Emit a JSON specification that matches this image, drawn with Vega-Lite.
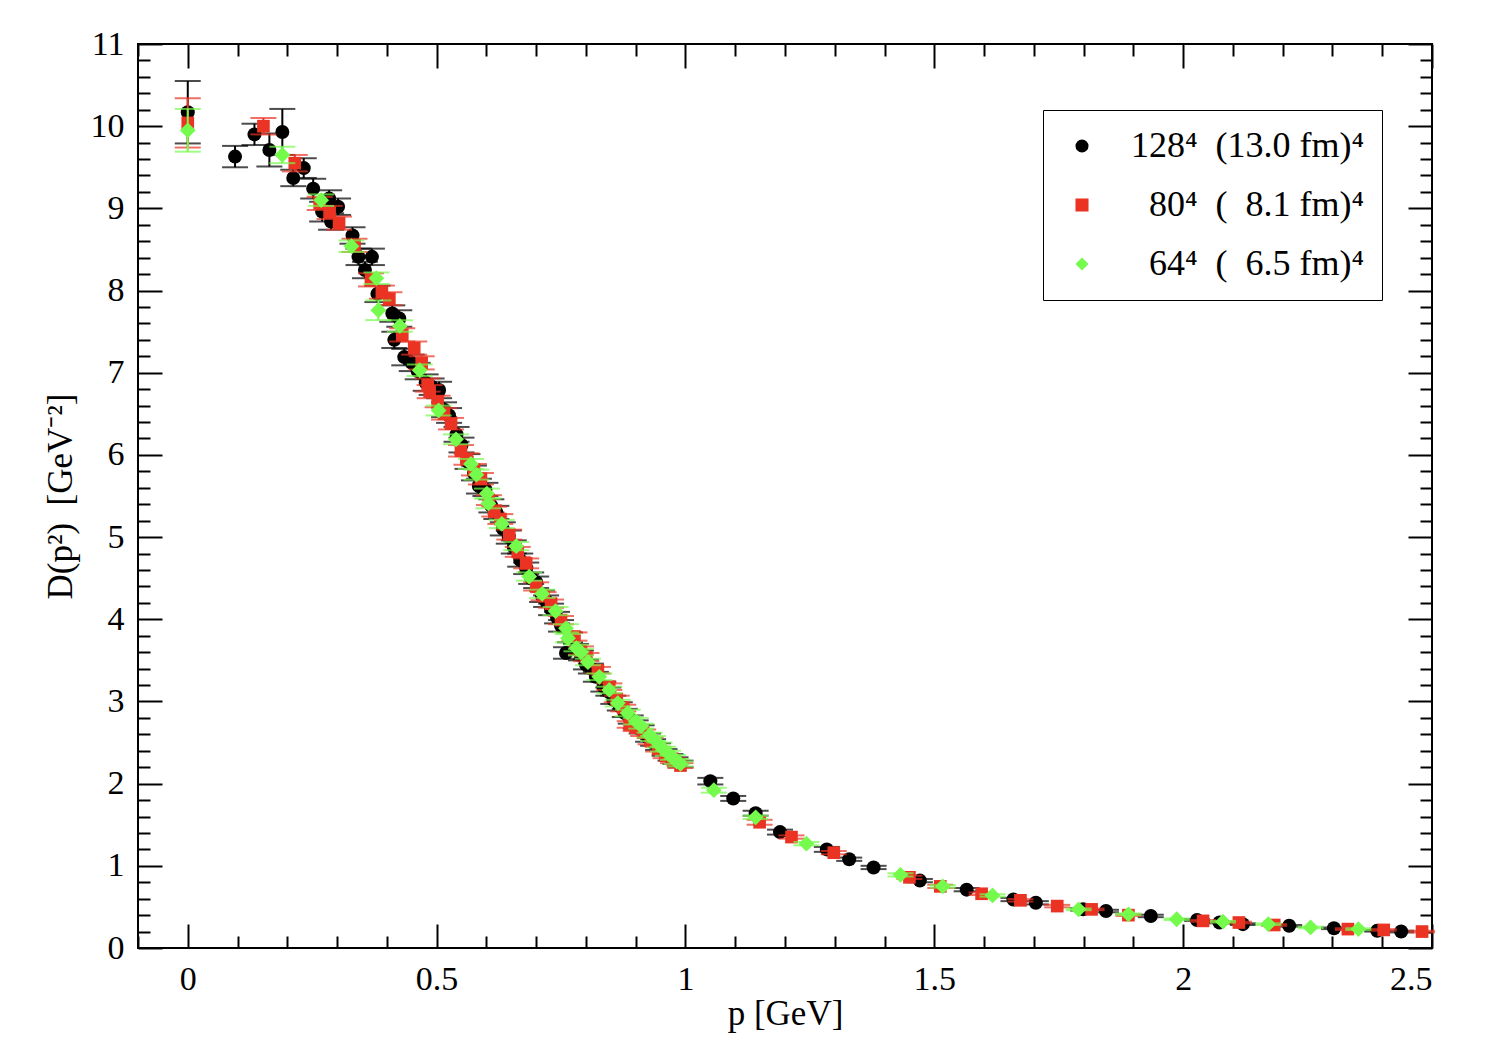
{
  "$schema": "https://vega.github.io/schema/vega-lite/v6.json",
  "description": "D(p2) vs p for three lattice volumes",
  "width": 1294,
  "height": 904,
  "autosize": "none",
  "padding": {"left": 138, "top": 44, "right": 62, "bottom": 112},
  "data": {
    "values": [
      {"g":"128","p":0,"d":10.17,"e":0.38},{"g":"128","p":0.095,"d":9.63,"e":0.13},{"g":"128","p":0.134,"d":9.90,"e":0.13},{"g":"128","p":0.164,"d":9.71,"e":0.2},{"g":"128","p":0.19,"d":9.93,"e":0.28},
      {"g":"128","p":0.212,"d":9.37,"e":0.1},{"g":"128","p":0.233,"d":9.49,"e":0.12},{"g":"128","p":0.252,"d":9.24,"e":0.12},{"g":"128","p":0.27,"d":8.96,"e":0.12},{"g":"128","p":0.284,"d":9.12,"e":0.1},
      {"g":"128","p":0.288,"d":8.84,"e":0.1},{"g":"128","p":0.302,"d":9.02,"e":0.1},{"g":"128","p":0.331,"d":8.67,"e":0.1},{"g":"128","p":0.343,"d":8.41,"e":0.1},{"g":"128","p":0.356,"d":8.25,"e":0.1},
      {"g":"128","p":0.37,"d":8.41,"e":0.1},{"g":"128","p":0.381,"d":7.96,"e":0.1},{"g":"128","p":0.411,"d":7.72,"e":0.1},{"g":"128","p":0.415,"d":7.40,"e":0.1},{"g":"128","p":0.425,"d":7.66,"e":0.1},
      {"g":"128","p":0.435,"d":7.19,"e":0.1},{"g":"128","p":0.45,"d":7.12,"e":0.1},{"g":"128","p":0.462,"d":7.02,"e":0.1},{"g":"128","p":0.478,"d":6.88,"e":0.1},{"g":"128","p":0.49,"d":6.83,"e":0.1},
      {"g":"128","p":0.505,"d":6.79,"e":0.1},{"g":"128","p":0.515,"d":6.55,"e":0.09},{"g":"128","p":0.525,"d":6.48,"e":0.09},{"g":"128","p":0.54,"d":6.25,"e":0.09},{"g":"128","p":0.55,"d":6.12,"e":0.09},
      {"g":"128","p":0.562,"d":5.92,"e":0.09},{"g":"128","p":0.575,"d":5.78,"e":0.09},{"g":"128","p":0.585,"d":5.62,"e":0.09},{"g":"128","p":0.598,"d":5.58,"e":0.08},{"g":"128","p":0.61,"d":5.38,"e":0.08},
      {"g":"128","p":0.62,"d":5.30,"e":0.08},{"g":"128","p":0.633,"d":5.10,"e":0.08},{"g":"128","p":0.645,"d":5.00,"e":0.08},{"g":"128","p":0.655,"d":4.88,"e":0.08},{"g":"128","p":0.668,"d":4.72,"e":0.08},
      {"g":"128","p":0.68,"d":4.62,"e":0.07},{"g":"128","p":0.69,"d":4.50,"e":0.07},{"g":"128","p":0.70,"d":4.45,"e":0.07},{"g":"128","p":0.712,"d":4.28,"e":0.07},{"g":"128","p":0.72,"d":4.22,"e":0.07},
      {"g":"128","p":0.73,"d":4.12,"e":0.07},{"g":"128","p":0.742,"d":4.02,"e":0.07},{"g":"128","p":0.75,"d":3.92,"e":0.07},{"g":"128","p":0.76,"d":3.59,"e":0.07},{"g":"128","p":0.768,"d":3.78,"e":0.06},
      {"g":"128","p":0.78,"d":3.64,"e":0.06},{"g":"128","p":0.79,"d":3.56,"e":0.06},{"g":"128","p":0.80,"d":3.45,"e":0.06},{"g":"128","p":0.81,"d":3.40,"e":0.06},{"g":"128","p":0.82,"d":3.30,"e":0.06},
      {"g":"128","p":0.835,"d":3.18,"e":0.06},{"g":"128","p":0.845,"d":3.12,"e":0.05},{"g":"128","p":0.855,"d":3.02,"e":0.05},{"g":"128","p":0.868,"d":2.94,"e":0.05},{"g":"128","p":0.878,"d":2.86,"e":0.05},
      {"g":"128","p":0.89,"d":2.78,"e":0.05},{"g":"128","p":0.9,"d":2.72,"e":0.05},{"g":"128","p":0.912,"d":2.66,"e":0.05},{"g":"128","p":0.925,"d":2.56,"e":0.05},{"g":"128","p":0.935,"d":2.50,"e":0.04},
      {"g":"128","p":0.945,"d":2.45,"e":0.04},{"g":"128","p":0.958,"d":2.38,"e":0.04},{"g":"128","p":0.97,"d":2.32,"e":0.04},{"g":"128","p":0.98,"d":2.28,"e":0.04},{"g":"128","p":0.99,"d":2.24,"e":0.04},
      {"g":"128","p":1.05,"d":2.03,"e":0.04},{"g":"128","p":1.096,"d":1.82,"e":0.03},{"g":"128","p":1.141,"d":1.64,"e":0.03},{"g":"128","p":1.19,"d":1.41,"e":0.03},{"g":"128","p":1.284,"d":1.20,"e":0.03},
      {"g":"128","p":1.329,"d":1.08,"e":0.02},{"g":"128","p":1.378,"d":0.98,"e":0.02},{"g":"128","p":1.471,"d":0.82,"e":0.02},{"g":"128","p":1.565,"d":0.71,"e":0.02},{"g":"128","p":1.659,"d":0.59,"e":0.02},
      {"g":"128","p":1.704,"d":0.55,"e":0.02},{"g":"128","p":1.799,"d":0.47,"e":0.015},{"g":"128","p":1.845,"d":0.45,"e":0.015},{"g":"128","p":1.935,"d":0.39,"e":0.015},{"g":"128","p":2.028,"d":0.34,"e":0.01},
      {"g":"128","p":2.073,"d":0.31,"e":0.01},{"g":"128","p":2.12,"d":0.29,"e":0.01},{"g":"128","p":2.213,"d":0.27,"e":0.01},{"g":"128","p":2.303,"d":0.24,"e":0.01},{"g":"128","p":2.39,"d":0.21,"e":0.01},
      {"g":"128","p":2.438,"d":0.20,"e":0.01},
      {"g":"80","p":0,"d":10.04,"e":0.3},{"g":"80","p":0.152,"d":10.0,"e":0.1},{"g":"80","p":0.215,"d":9.55,"e":0.1},{"g":"80","p":0.265,"d":9.06,"e":0.08},{"g":"80","p":0.285,"d":8.95,"e":0.08},
      {"g":"80","p":0.304,"d":8.82,"e":0.08},{"g":"80","p":0.335,"d":8.55,"e":0.08},{"g":"80","p":0.368,"d":8.13,"e":0.08},{"g":"80","p":0.39,"d":7.98,"e":0.08},{"g":"80","p":0.405,"d":7.90,"e":0.08},
      {"g":"80","p":0.431,"d":7.46,"e":0.08},{"g":"80","p":0.455,"d":7.30,"e":0.08},{"g":"80","p":0.47,"d":7.12,"e":0.08},{"g":"80","p":0.482,"d":6.85,"e":0.08},{"g":"80","p":0.486,"d":6.77,"e":0.08},
      {"g":"80","p":0.502,"d":6.65,"e":0.07},{"g":"80","p":0.515,"d":6.50,"e":0.07},{"g":"80","p":0.529,"d":6.38,"e":0.07},{"g":"80","p":0.549,"d":6.05,"e":0.07},{"g":"80","p":0.56,"d":5.95,"e":0.07},
      {"g":"80","p":0.575,"d":5.82,"e":0.07},{"g":"80","p":0.589,"d":5.71,"e":0.07},{"g":"80","p":0.605,"d":5.45,"e":0.06},{"g":"80","p":0.616,"d":5.31,"e":0.06},{"g":"80","p":0.628,"d":5.22,"e":0.06},
      {"g":"80","p":0.646,"d":5.03,"e":0.06},{"g":"80","p":0.663,"d":4.82,"e":0.06},{"g":"80","p":0.68,"d":4.68,"e":0.06},{"g":"80","p":0.70,"d":4.40,"e":0.05},{"g":"80","p":0.715,"d":4.28,"e":0.05},
      {"g":"80","p":0.73,"d":4.19,"e":0.05},{"g":"80","p":0.75,"d":3.99,"e":0.05},{"g":"80","p":0.777,"d":3.79,"e":0.05},{"g":"80","p":0.79,"d":3.62,"e":0.05},{"g":"80","p":0.801,"d":3.54,"e":0.05},
      {"g":"80","p":0.824,"d":3.38,"e":0.04},{"g":"80","p":0.847,"d":3.18,"e":0.04},{"g":"80","p":0.862,"d":3.03,"e":0.04},{"g":"80","p":0.875,"d":2.92,"e":0.04},{"g":"80","p":0.888,"d":2.72,"e":0.04},
      {"g":"80","p":0.9,"d":2.68,"e":0.04},{"g":"80","p":0.915,"d":2.62,"e":0.04},{"g":"80","p":0.93,"d":2.52,"e":0.04},{"g":"80","p":0.945,"d":2.42,"e":0.03},{"g":"80","p":0.96,"d":2.34,"e":0.03},
      {"g":"80","p":0.975,"d":2.28,"e":0.03},{"g":"80","p":0.99,"d":2.22,"e":0.03},{"g":"80","p":1.149,"d":1.53,"e":0.03},{"g":"80","p":1.213,"d":1.35,"e":0.02},{"g":"80","p":1.298,"d":1.16,"e":0.02},
      {"g":"80","p":1.45,"d":0.86,"e":0.02},{"g":"80","p":1.512,"d":0.75,"e":0.02},{"g":"80","p":1.595,"d":0.66,"e":0.015},{"g":"80","p":1.673,"d":0.58,"e":0.015},{"g":"80","p":1.747,"d":0.51,"e":0.015},
      {"g":"80","p":1.816,"d":0.47,"e":0.01},{"g":"80","p":1.89,"d":0.40,"e":0.01},{"g":"80","p":2.04,"d":0.33,"e":0.01},{"g":"80","p":2.112,"d":0.31,"e":0.01},{"g":"80","p":2.183,"d":0.28,"e":0.01},
      {"g":"80","p":2.331,"d":0.23,"e":0.01},{"g":"80","p":2.403,"d":0.22,"e":0.01},{"g":"80","p":2.48,"d":0.20,"e":0.01},
      {"g":"64","p":0,"d":9.95,"e":0.26},{"g":"64","p":0.19,"d":9.65,"e":0.1},{"g":"64","p":0.268,"d":9.10,"e":0.07},{"g":"64","p":0.329,"d":8.54,"e":0.07},{"g":"64","p":0.379,"d":8.15,"e":0.07},
      {"g":"64","p":0.383,"d":7.76,"e":0.12},{"g":"64","p":0.426,"d":7.57,"e":0.07},{"g":"64","p":0.466,"d":7.03,"e":0.07},{"g":"64","p":0.504,"d":6.54,"e":0.06},{"g":"64","p":0.539,"d":6.19,"e":0.06},
      {"g":"64","p":0.569,"d":5.89,"e":0.06},{"g":"64","p":0.58,"d":5.76,"e":0.06},{"g":"64","p":0.601,"d":5.53,"e":0.06},{"g":"64","p":0.604,"d":5.41,"e":0.06},{"g":"64","p":0.631,"d":5.16,"e":0.05},
      {"g":"64","p":0.66,"d":4.89,"e":0.05},{"g":"64","p":0.686,"d":4.52,"e":0.05},{"g":"64","p":0.712,"d":4.31,"e":0.05},{"g":"64","p":0.739,"d":4.10,"e":0.05},{"g":"64","p":0.76,"d":3.89,"e":0.05},
      {"g":"64","p":0.764,"d":3.77,"e":0.05},{"g":"64","p":0.781,"d":3.65,"e":0.04},{"g":"64","p":0.79,"d":3.60,"e":0.04},{"g":"64","p":0.804,"d":3.48,"e":0.04},{"g":"64","p":0.827,"d":3.30,"e":0.04},
      {"g":"64","p":0.847,"d":3.14,"e":0.04},{"g":"64","p":0.864,"d":2.98,"e":0.04},{"g":"64","p":0.884,"d":2.86,"e":0.04},{"g":"64","p":0.9,"d":2.76,"e":0.04},{"g":"64","p":0.911,"d":2.70,"e":0.03},
      {"g":"64","p":0.928,"d":2.59,"e":0.03},{"g":"64","p":0.935,"d":2.55,"e":0.03},{"g":"64","p":0.948,"d":2.47,"e":0.03},{"g":"64","p":0.955,"d":2.42,"e":0.03},{"g":"64","p":0.965,"d":2.37,"e":0.03},
      {"g":"64","p":0.975,"d":2.32,"e":0.03},{"g":"64","p":0.982,"d":2.27,"e":0.03},{"g":"64","p":0.99,"d":2.24,"e":0.03},{"g":"64","p":1.057,"d":1.92,"e":0.03},{"g":"64","p":1.141,"d":1.59,"e":0.02},
      {"g":"64","p":1.243,"d":1.27,"e":0.02},{"g":"64","p":1.432,"d":0.89,"e":0.02},{"g":"64","p":1.517,"d":0.75,"e":0.015},{"g":"64","p":1.617,"d":0.64,"e":0.015},{"g":"64","p":1.79,"d":0.47,"e":0.01},
      {"g":"64","p":1.89,"d":0.41,"e":0.01},{"g":"64","p":1.987,"d":0.35,"e":0.01},{"g":"64","p":2.08,"d":0.32,"e":0.01},{"g":"64","p":2.171,"d":0.29,"e":0.01},{"g":"64","p":2.256,"d":0.25,"e":0.01},
      {"g":"64","p":2.352,"d":0.23,"e":0.01}
    ]
  },
  "resolve": {"axis": {"x": "independent", "y": "independent"}},
  "layer": [
    {
      "transform": [{"filter": "datum.g === '128'"}],
      "mark": {"type": "errorbar", "ticks": true, "size": 26, "thickness": 2, "color": "#000000"},
      "encoding": {
        "x": {"field": "p", "type": "quantitative", "scale": {"domain": [-0.1, 2.5], "nice": false}, "axis": null},
        "y": {"field": "d", "type": "quantitative", "scale": {"domain": [0, 11], "nice": false}, "axis": null},
        "yError": {"field": "e"}
      }
    },
    {
      "transform": [{"filter": "datum.g === '128'"}],
      "mark": {"type": "point", "filled": true, "opacity": 1, "size": 196, "strokeWidth": 0},
      "encoding": {
        "x": {"field": "p", "type": "quantitative", "axis": {"orient": "bottom", "values": [0, 0.5, 1, 1.5, 2, 2.5], "labelExpr": "'' + datum.value", "tickSize": -24, "labelPadding": 38, "title": "p [GeV]", "titlePadding": 0}},
        "y": {"field": "d", "type": "quantitative", "axis": {"orient": "left", "values": [0, 1, 2, 3, 4, 5, 6, 7, 8, 9, 10, 11], "tickSize": -24, "labelPadding": 38, "title": "D(p²)\u00a0 [GeV⁻²]", "titlePadding": 12}},
        "color": {"field": "g", "type": "nominal", "scale": {"domain": ["128", "80", "64"], "range": ["#000000", "#ea3323", "#75fb4c"]},
          "legend": {"title": null, "orient": "none", "legendX": 905, "legendY": 66, "labelExpr": "datum.value === '128' ? '128⁴\u00a0 (13.0 fm)⁴' : datum.value === '80' ? '80⁴\u00a0 (\u20078.1 fm)⁴' : '64⁴\u00a0 (\u20076.5 fm)⁴'"}},
        "shape": {"field": "g", "type": "nominal", "scale": {"domain": ["128", "80", "64"], "range": ["circle", "square", "diamond"]},
          "legend": {"title": null, "orient": "none", "legendX": 905, "legendY": 66, "labelExpr": "datum.value === '128' ? '128⁴\u00a0 (13.0 fm)⁴' : datum.value === '80' ? '80⁴\u00a0 (\u20078.1 fm)⁴' : '64⁴\u00a0 (\u20076.5 fm)⁴'"}}
      }
    },
    {
      "transform": [{"filter": "datum.g === '80'"}],
      "mark": {"type": "errorbar", "ticks": true, "size": 26, "thickness": 2, "color": "#ea3323"},
      "encoding": {
        "x": {"field": "p", "type": "quantitative", "axis": null},
        "y": {"field": "d", "type": "quantitative", "axis": null},
        "yError": {"field": "e"}
      }
    },
    {
      "transform": [{"filter": "datum.g === '80'"}],
      "mark": {"type": "point", "filled": true, "opacity": 1, "size": 160, "strokeWidth": 0},
      "encoding": {
        "x": {"field": "p", "type": "quantitative", "axis": {"orient": "bottom", "values": [-0.1, 0.1, 0.2, 0.3, 0.4, 0.6, 0.7, 0.8, 0.9, 1.1, 1.2, 1.3, 1.4, 1.6, 1.7, 1.8, 1.9, 2.1, 2.2, 2.3, 2.4], "tickSize": -12, "labels": false, "title": null}},
        "y": {"field": "d", "type": "quantitative", "axis": {"orient": "left", "values": [0.2, 0.4, 0.6, 0.8, 1.2, 1.4, 1.6, 1.8, 2.2, 2.4, 2.6, 2.8, 3.2, 3.4, 3.6, 3.8, 4.2, 4.4, 4.6, 4.8, 5.2, 5.4, 5.6, 5.8, 6.2, 6.4, 6.6, 6.8, 7.2, 7.4, 7.6, 7.8, 8.2, 8.4, 8.6, 8.8, 9.2, 9.4, 9.6, 9.8, 10.2, 10.4, 10.6, 10.8], "tickSize": -12, "labels": false, "title": null}},
        "color": {"field": "g", "type": "nominal"},
        "shape": {"field": "g", "type": "nominal"}
      }
    },
    {
      "transform": [{"filter": "datum.g === '64'"}],
      "mark": {"type": "errorbar", "ticks": true, "size": 26, "thickness": 2, "color": "#75fb4c"},
      "encoding": {
        "x": {"field": "p", "type": "quantitative", "axis": null},
        "y": {"field": "d", "type": "quantitative", "axis": null},
        "yError": {"field": "e"}
      }
    },
    {
      "transform": [{"filter": "datum.g === '64'"}],
      "mark": {"type": "point", "filled": true, "opacity": 1, "size": 250, "strokeWidth": 0},
      "encoding": {
        "x": {"field": "p", "type": "quantitative", "axis": {"orient": "top", "values": [0, 0.5, 1, 1.5, 2, 2.5], "tickSize": -24, "labels": false, "title": null}},
        "y": {"field": "d", "type": "quantitative", "axis": {"orient": "right", "values": [0, 1, 2, 3, 4, 5, 6, 7, 8, 9, 10, 11], "tickSize": -24, "labels": false, "title": null}},
        "color": {"field": "g", "type": "nominal"},
        "shape": {"field": "g", "type": "nominal"}
      }
    },
    {
      "mark": {"type": "point", "opacity": 0},
      "encoding": {
        "x": {"field": "p", "type": "quantitative", "axis": {"orient": "top", "values": [-0.1, 0.1, 0.2, 0.3, 0.4, 0.6, 0.7, 0.8, 0.9, 1.1, 1.2, 1.3, 1.4, 1.6, 1.7, 1.8, 1.9, 2.1, 2.2, 2.3, 2.4], "tickSize": -12, "labels": false, "title": null}},
        "y": {"field": "d", "type": "quantitative", "axis": {"orient": "right", "values": [0.2, 0.4, 0.6, 0.8, 1.2, 1.4, 1.6, 1.8, 2.2, 2.4, 2.6, 2.8, 3.2, 3.4, 3.6, 3.8, 4.2, 4.4, 4.6, 4.8, 5.2, 5.4, 5.6, 5.8, 6.2, 6.4, 6.6, 6.8, 7.2, 7.4, 7.6, 7.8, 8.2, 8.4, 8.6, 8.8, 9.2, 9.4, 9.6, 9.8, 10.2, 10.4, 10.6, 10.8], "tickSize": -12, "labels": false, "title": null}}
      }
    }
  ],
  "config": {
    "font": "Liberation Serif",
    "view": {"stroke": "#000000", "strokeWidth": 2},
    "axis": {
      "domain": false,
      "grid": false,
      "ticks": true,
      "tickColor": "#000000",
      "tickWidth": 2,
      "labelFont": "Liberation Serif",
      "labelFontSize": 34,
      "labelColor": "#000000",
      "titleFont": "Liberation Serif",
      "titleFontSize": 35,
      "titleFontWeight": "normal",
      "titleColor": "#000000"
    },
    "legend": {
      "fillColor": "#ffffff",
      "strokeColor": "#000000",
      "padding": 18,
      "symbolOffset": 3,
      "labelOffset": 264,
      "labelAlign": "right",
      "rowPadding": 23,
      "symbolSize": 170,
      "symbolStrokeWidth": 0,
      "labelFont": "Liberation Serif",
      "labelFontSize": 36,
      "labelColor": "#000000",
      "labelLimit": 0
    }
  }
}
